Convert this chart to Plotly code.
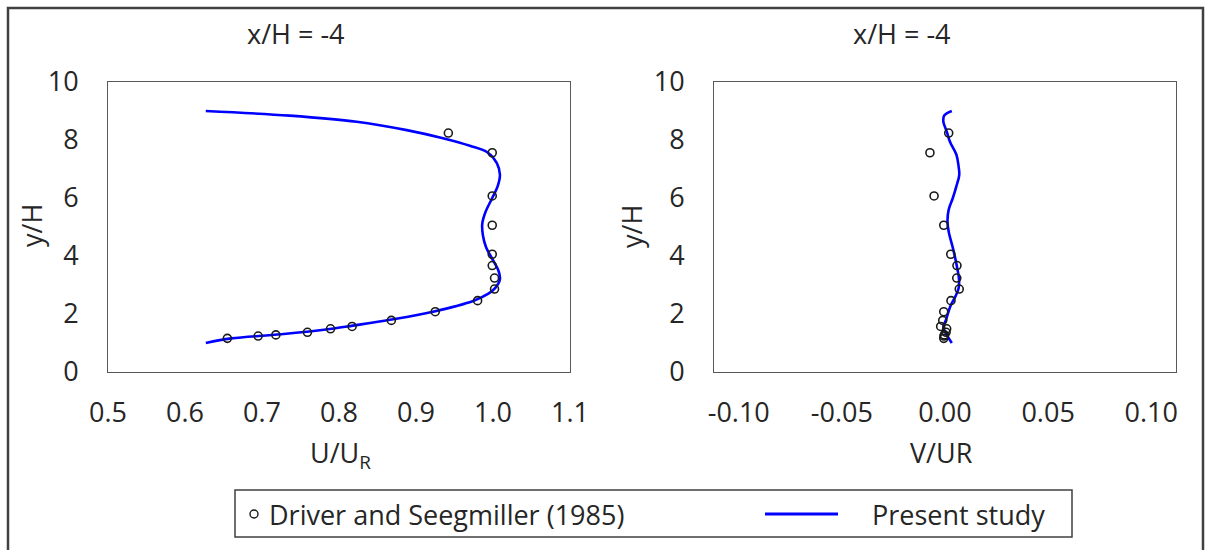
import plotly.graph_objects as go

# ---------------- data ----------------
y_exp = [1.16, 1.24, 1.28, 1.37, 1.49, 1.57, 1.78, 2.08, 2.46, 2.86, 3.24, 3.67, 4.06, 5.06, 6.07, 7.56, 8.24]
u_exp = [0.655, 0.695, 0.718, 0.759, 0.789, 0.817, 0.868, 0.925, 0.980, 1.002, 1.002, 0.999, 0.999, 0.999, 0.999, 0.999, 0.942]
v_exp = [-0.0006, -0.0005, -0.0003, 0.0005, 0.0008, -0.0021, -0.0011, -0.0006, 0.0029, 0.0069, 0.0057, 0.0058, 0.0028, -0.0006, -0.0053, -0.0073, 0.0018]

y_sim_u = [1.0, 1.16, 1.3, 1.5, 1.6, 1.8, 2.08, 2.46, 2.7, 2.9, 3.2, 3.5, 3.9, 4.3, 4.7, 5.1, 5.5, 6.0, 6.4, 6.8, 7.2, 7.57, 7.8, 8.06, 8.34, 8.63, 8.84, 9.0]
u_sim = [0.627, 0.66, 0.725, 0.793, 0.818, 0.866, 0.922, 0.975, 0.994, 1.003, 1.009, 1.007, 0.999, 0.991, 0.987, 0.986, 0.99, 0.999, 1.006, 1.009, 1.005, 0.993, 0.970, 0.935, 0.888, 0.823, 0.736, 0.627]

y_sim_v = [1.0, 1.2, 1.4, 1.56, 1.8, 2.25, 2.6, 2.89, 3.2, 3.52, 4.2, 4.84, 5.2, 5.6, 6.0, 6.4, 6.79, 7.14, 7.5, 7.94, 8.3, 8.63, 8.85, 9.0]
v_sim = [0.0033, 0.0015, 0.0, -0.0008, 0.0005, 0.0025, 0.005, 0.0066, 0.0068, 0.0061, 0.0041, 0.0018, 0.0012, 0.0018, 0.0038, 0.0055, 0.0069, 0.0065, 0.0055, 0.0024, 0.0008, -0.0008, -0.0003, 0.0033]

x1_ticks = [0.5, 0.6, 0.7, 0.8, 0.9, 1.0, 1.1]
x1_labels = ["0.5", "0.6", "0.7", "0.8", "0.9", "1.0", "1.1"]
x2_ticks = [-0.10, -0.05, 0.0, 0.05, 0.10]
x2_labels = ["-0.10", "-0.05", "0.00", "0.05", "0.10"]
y_ticks = [0, 2, 4, 6, 8, 10]

panel_title = "x/H = -4"
exp_name = "Driver and Seegmiller (1985)"
sim_name = "Present study"

# ---------------- figure ----------------
W, H = 1210, 550
FONT = "Open Sans"
TXT = "#262626"
FS = 27


def px(x):
    return x / W


def py(y):
    return 1 - y / H


fig = go.Figure()

marker_style = dict(symbol="circle-open", size=8, color="#1a1a1a", line=dict(width=1.6, color="#1a1a1a"))
line_style = dict(color="#0000ff", width=2.6, shape="spline", smoothing=1.0)

fig.add_trace(go.Scatter(x=u_sim, y=y_sim_u, mode="lines", line=line_style, name=sim_name,
                         xaxis="x", yaxis="y", showlegend=False))
fig.add_trace(go.Scatter(x=u_exp, y=y_exp, mode="markers", marker=marker_style, name=exp_name,
                         xaxis="x", yaxis="y", showlegend=False))
fig.add_trace(go.Scatter(x=v_sim, y=y_sim_v, mode="lines", line=line_style, name=sim_name,
                         xaxis="x2", yaxis="y2", showlegend=False))
fig.add_trace(go.Scatter(x=v_exp, y=y_exp, mode="markers", marker=marker_style, name=exp_name,
                         xaxis="x2", yaxis="y2", showlegend=False))

axis_common = dict(showline=True, mirror=True, linecolor="#595959", linewidth=1,
                   showgrid=False, zeroline=False, ticks="", automargin=False,
                   tickfont=dict(family=FONT, size=FS, color=TXT))

ydom = [py(372), py(82)]
fig.update_layout(
    template="none",
    width=W, height=H,
    margin=dict(l=0, r=0, t=0, b=0, pad=0, autoexpand=False),
    paper_bgcolor="white", plot_bgcolor="white",
    xaxis=dict(domain=[px(108), px(570)], range=[0.5, 1.1], tickvals=x1_ticks, ticktext=x1_labels,
               anchor="y", ticklabelstandoff=17, **axis_common),
    yaxis=dict(domain=ydom, range=[0, 10], tickvals=y_ticks, anchor="x",
               ticklabelstandoff=23, **axis_common),
    xaxis2=dict(domain=[px(714), px(1176)], range=[-0.112, 0.112], tickvals=x2_ticks, ticktext=x2_labels,
                anchor="y2", ticklabelstandoff=17, **axis_common),
    yaxis2=dict(domain=ydom, range=[0, 10], tickvals=y_ticks, anchor="x2",
                ticklabelstandoff=23, **axis_common),
    showlegend=False,
)

ann_font = dict(family=FONT, size=FS, color=TXT)
annotations = [
    dict(text=panel_title, x=px(296), y=py(34)),
    dict(text=panel_title, x=px(902), y=py(34)),
    dict(text="y/H", x=px(31), y=py(226), textangle=-90),
    dict(text="y/H", x=px(631), y=py(227), textangle=-90),
    dict(text="U/U<sub>R</sub>", x=px(340), y=py(454)),
    dict(text="V/UR", x=px(941), y=py(452)),
    dict(text=exp_name, x=px(267), y=py(514), xanchor="left"),
    dict(text=sim_name, x=px(870), y=py(514), xanchor="left"),
]
for a in annotations:
    a.setdefault("xanchor", "center")
    fig.add_annotation(xref="paper", yref="paper", yanchor="middle", showarrow=False,
                       font=ann_font, **a)

shapes = [
    # outer chart border
    dict(type="rect", xref="paper", yref="paper", x0=px(8), x1=px(1203), y0=-0.2, y1=py(8),
         line=dict(color="#404040", width=2.5)),
    # legend box
    dict(type="rect", xref="paper", yref="paper", x0=px(235), x1=px(1072), y0=py(537), y1=py(490),
         line=dict(color="#404040", width=1.5)),
    # legend line symbol
    dict(type="line", xref="paper", yref="paper", x0=px(765), x1=px(838), y0=py(514), y1=py(514),
         line=dict(color="#0000ff", width=3)),
    # legend circle symbol
    dict(type="circle", xref="paper", yref="paper", xsizemode="pixel", ysizemode="pixel",
         xanchor=px(254), yanchor=py(514), x0=-4, x1=4, y0=-4, y1=4,
         line=dict(color="#1a1a1a", width=1.4)),
]
for s in shapes:
    fig.add_shape(**s)

fig.write_html("out.html")
